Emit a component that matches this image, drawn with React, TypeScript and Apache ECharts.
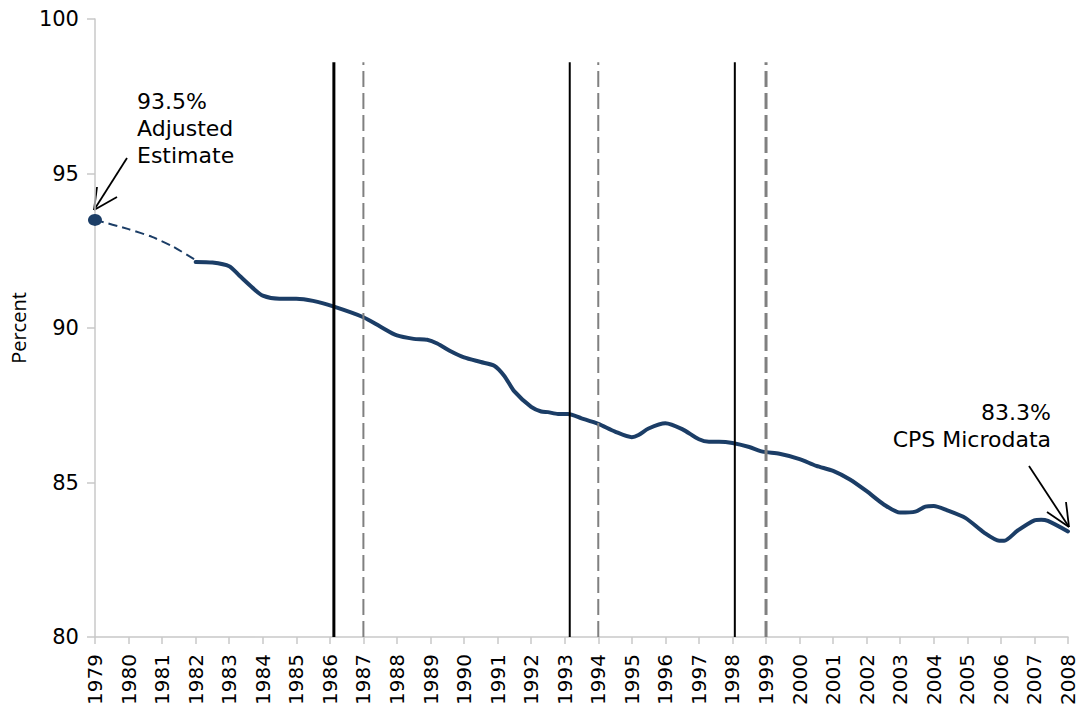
import React, { useEffect, useRef } from "react";
import * as echarts from "echarts";

// Adjusted estimate (dashed) 1979-1982
const adjustedYears = [1979, 1980, 1980.7, 1981.3, 1982];
const adjustedValues = [93.5, 93.2, 92.95, 92.65, 92.2];

// CPS microdata (solid) 1982-2008
const cpsYears = [
  1982.0, 1982.5, 1983.0, 1983.3, 1983.7, 1984.0, 1984.5, 1985.0, 1985.5, 1986.1,
  1987.0, 1987.5, 1988.0, 1988.5, 1988.9, 1989.2, 1989.6, 1990.0, 1990.5, 1990.9,
  1991.2, 1991.5, 1992.0, 1992.3, 1992.5, 1992.8, 1993.1, 1993.5, 1994.0, 1994.5,
  1995.0, 1995.2, 1995.5, 1996.0, 1996.5, 1997.0, 1997.3, 1997.6, 1998.0, 1998.5,
  1998.9, 1999.4, 2000.0, 2000.5, 2001.0, 2001.5, 2002.0, 2002.5, 2003.0, 2003.45,
  2003.75, 2004.0, 2004.4, 2004.95, 2005.5, 2005.95, 2006.1, 2006.5, 2007.0, 2007.2,
  2007.4, 2008.0,
];
const cpsValues = [
  92.14, 92.12, 92.0, 91.7, 91.3, 91.05, 90.95, 90.95, 90.88, 90.7,
  90.35, 90.05, 89.76, 89.65, 89.62, 89.5, 89.25, 89.05, 88.9, 88.78,
  88.45, 87.95, 87.45, 87.3, 87.28, 87.22, 87.22, 87.08, 86.9, 86.65,
  86.47, 86.54, 86.75, 86.92, 86.73, 86.4, 86.32, 86.32, 86.28, 86.15,
  86.0, 85.93, 85.76, 85.54, 85.38, 85.1, 84.72, 84.3, 84.03, 84.06,
  84.22, 84.24, 84.1, 83.85, 83.38, 83.12, 83.12, 83.45, 83.78, 83.8,
  83.76, 83.42,
];

// Vertical reference lines
const solidMarkYears = [1986.12, 1993.15, 1998.07];
const solidMarkWidths = [3, 2, 2];
const dashedMarkYears = [1987.0, 1994.0, 1999.0];
const dashedMarkWidths = [2, 2, 3];
const markTop = 98.6;

const xMin = 1979;
const xMax = 2008;
const yMin = 80;
const yMax = 100;

const FONT = "DejaVu Sans";
const NAVY = "#1b3d66";

export default function App() {
  const ref = useRef<HTMLDivElement>(null);

  useEffect(() => {
    if (!ref.current) return;
    const chart = echarts.init(ref.current, undefined, { renderer: "svg" });

    const vSeries: any[] = [];
    solidMarkYears.forEach((yr, i) => {
      vSeries.push({
        type: "line",
        data: [[yr, yMin], [yr, markTop]],
        symbol: "none",
        lineStyle: { color: "#000", width: solidMarkWidths[i], type: "solid" },
        z: 5,
        silent: true,
      });
    });
    dashedMarkYears.forEach((yr, i) => {
      vSeries.push({
        type: "line",
        data: [[yr, yMin], [yr, markTop]],
        symbol: "none",
        lineStyle: { color: "#808080", width: dashedMarkWidths[i], type: [16, 6] },
        z: 5,
        silent: true,
      });
    });

    chart.setOption({
      animation: false,
      grid: { left: 90, right: 11, top: 19, bottom: 68, containLabel: false },
      xAxis: {
        type: "value",
        min: xMin,
        max: xMax,
        interval: 1,
        axisLine: { show: true, lineStyle: { color: "#c8c8c8", width: 1.5 } },
        axisTick: { show: true, length: 7, lineStyle: { color: "#c8c8c8", width: 1.5 } },
        splitLine: { show: false },
        axisLabel: {
          rotate: 90,
          margin: 17,
          color: "#000",
          fontFamily: FONT,
          fontSize: 20,
          formatter: (v: number) => String(v),
        },
      },
      yAxis: {
        type: "value",
        min: yMin,
        max: yMax,
        interval: 5,
        name: "Percent",
        nameLocation: "middle",
        nameGap: 63,
        nameTextStyle: { color: "#000", fontFamily: "Open Sans", fontSize: 20 },
        axisLine: { show: true, lineStyle: { color: "#c8c8c8", width: 1.5 } },
        axisTick: { show: true, length: 8, lineStyle: { color: "#c8c8c8", width: 1.5 } },
        splitLine: { show: false },
        axisLabel: { color: "#000", fontFamily: FONT, fontSize: 21, margin: 16 },
      },
      series: [
        {
          type: "line",
          data: adjustedYears.map((x, i) => [x, adjustedValues[i]]),
          symbol: "none",
          smooth: 0.2,
          lineStyle: { color: NAVY, width: 2, type: [9, 5] },
          z: 3,
        },
        {
          type: "line",
          data: [[adjustedYears[0], adjustedValues[0]]],
          symbol: "circle",
          symbolSize: [14, 12],
          itemStyle: { color: NAVY },
          lineStyle: { width: 0 },
          z: 4,
        },
        {
          type: "line",
          data: cpsYears.map((x, i) => [x, cpsValues[i]]),
          symbol: "none",
          smooth: 0.25,
          lineStyle: { color: NAVY, width: 4, cap: "round", join: "round" },
          z: 3,
        },
        ...vSeries,
      ],
      graphic: [
        {
          type: "text",
          x: 137,
          y: 88,
          style: {
            text: "93.5%\nAdjusted\nEstimate",
            font: `22px "${FONT}"`,
            fill: "#000",
            lineHeight: 27,
            align: "left",
            verticalAlign: "top",
          },
        },
        { type: "line", shape: { x1: 127, y1: 158, x2: 94, y2: 210 }, style: { stroke: "#000", lineWidth: 1.8 } },
        { type: "line", shape: { x1: 94, y1: 210, x2: 117, y2: 197 }, style: { stroke: "#000", lineWidth: 1.8 } },
        { type: "line", shape: { x1: 94, y1: 210, x2: 97, y2: 187 }, style: { stroke: "#000", lineWidth: 1.8 } },
        {
          type: "text",
          x: 1051,
          y: 399,
          style: {
            text: "83.3%\nCPS Microdata",
            font: `22px "${FONT}"`,
            fill: "#000",
            lineHeight: 27,
            align: "right",
            verticalAlign: "top",
          },
        },
        { type: "line", shape: { x1: 1029, y1: 466, x2: 1069, y2: 527 }, style: { stroke: "#000", lineWidth: 1.8 } },
        { type: "line", shape: { x1: 1069, y1: 527, x2: 1066, y2: 502 }, style: { stroke: "#000", lineWidth: 1.8 } },
        { type: "line", shape: { x1: 1069, y1: 527, x2: 1047, y2: 512 }, style: { stroke: "#000", lineWidth: 1.8 } },
      ],
    });

    return () => chart.dispose();
  }, []);

  return (
    <div
      ref={ref}
      style={{ position: "fixed", left: 0, top: 0, width: 1079, height: 708, background: "#fff" }}
    />
  );
}
